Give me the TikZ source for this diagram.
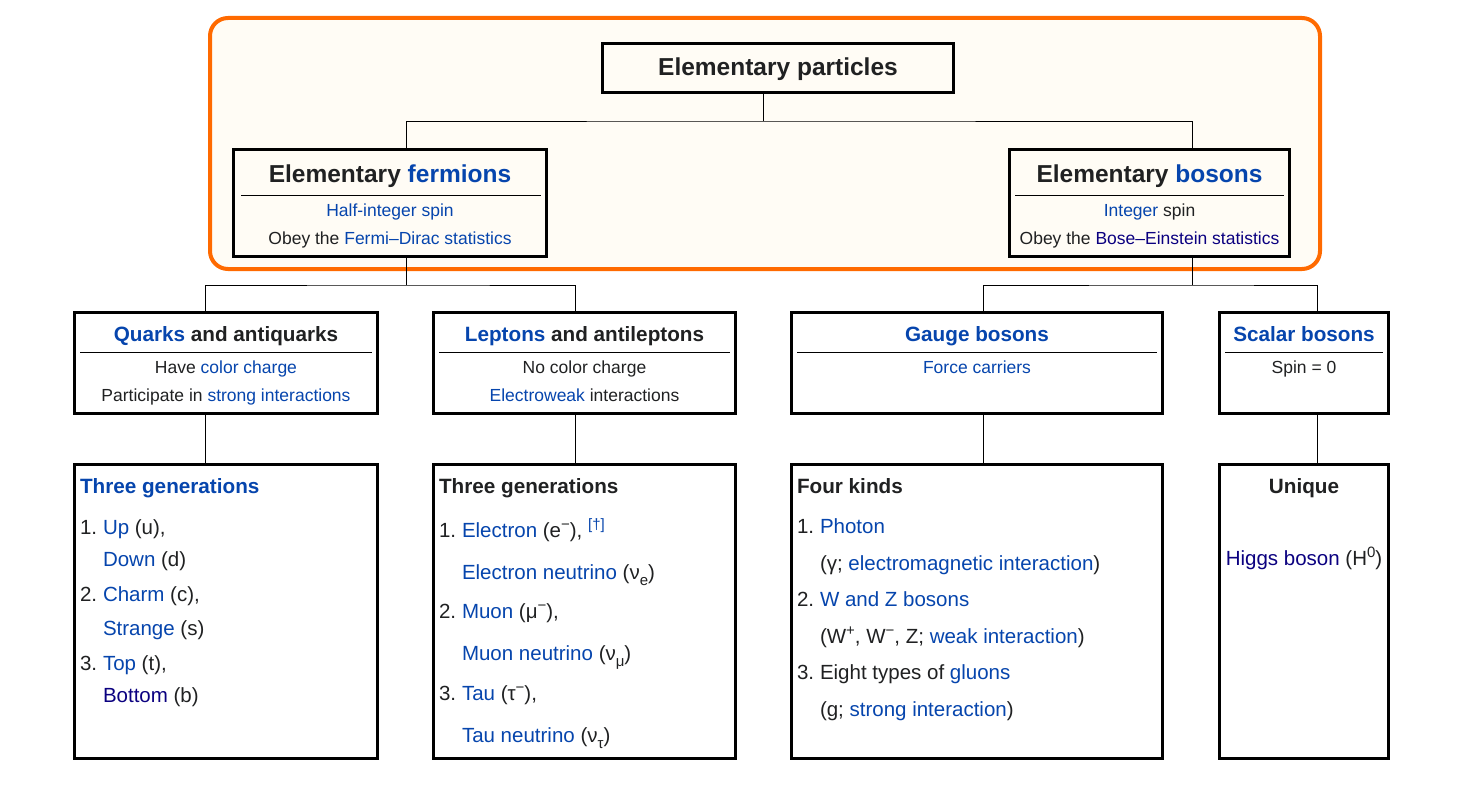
\documentclass[tikz,border=0pt]{standalone}
\usepackage{fontspec}
\setmainfont{Liberation Sans}
\definecolor{lnk}{HTML}{0645AD}
\definecolor{vis}{HTML}{0B0080}
\definecolor{txt}{HTML}{202122}
\definecolor{orng}{HTML}{FF6A00}
\definecolor{cream}{HTML}{FFFCF5}
\newcommand\lk[1]{\textcolor{lnk}{#1}}
\newcommand\vs[1]{\textcolor{vis}{#1}}
\newcommand\myfA{\fontsize{24.5}{28}\selectfont\bfseries}
\newcommand\myfB{\fontsize{20.7}{24}\selectfont\bfseries}
\newcommand\myfC{\fontsize{17.5}{20}\selectfont}
\newcommand\myfD{\fontsize{20.5}{24}\selectfont}
\newcommand\mysub[1]{\raisebox{-6pt}{\fontsize{15}{15}\selectfont #1}}
\newcommand\mysup[1]{\raisebox{8pt}{\fontsize{15}{15}\selectfont #1}}
\begin{document}
\begin{tikzpicture}[x=1pt,y=-1pt,
  every node/.style={inner sep=0pt, outer sep=0pt, text=txt},
  box/.style={draw=black, line width=3pt},
  wbox/.style={box, fill=white},
  frame/.style={draw=orng, line width=4pt, fill=cream, rounded corners=18pt},
  sepl/.style={draw=black, line width=1pt},
  conn/.style={draw=black, line width=1pt},
  tA/.style={anchor=base, font=\myfA},
  tB/.style={anchor=base, font=\myfB},
  tC/.style={anchor=base, font=\myfC},
  tBL/.style={anchor=base west, font=\myfB},
  tL/.style={anchor=base west, font=\myfD},
  tLc/.style={anchor=base, font=\myfD}]
\fill[white] (0,0) rectangle (1464,800);
\useasboundingbox (0,0) rectangle (1464,800);
\draw[frame] (210,18) rectangle (1320,269);

% column coordinates
\coordinate (xa) at (763,0);
\coordinate (xf) at (406,0);
\coordinate (xb) at (1192,0);
\coordinate (xq) at (205,0);
\coordinate (xl) at (575,0);
\coordinate (xg) at (983,0);
\coordinate (xs) at (1317,0);
\coordinate (j0) at (763,121);
\coordinate (j1) at (406,285);
\coordinate (j2) at (1192,285);

% top
\node[box, minimum width=351pt, minimum height=49pt] (top) at (778,68) {};
\node[tA] (topT) at (778,76) {Elementary particles};

% fermions
\node[box, minimum width=313pt, minimum height=107pt] (ferm) at (390,203) {};
\node[tA] (fermT) at (390,182) {Elementary \lk{fermions}};
\draw[sepl] (241,195) -- (541,195);
\node[tC] (fermA) at (390,216) {\lk{Half-integer spin}};
\node[tC] (fermB) at (390,244) {Obey the \lk{Fermi–Dirac statistics}};

% bosons
\node[box, minimum width=280pt, minimum height=107pt] (bos) at (1149.5,203) {};
\node[tA] (bosT) at (1149.5,182) {Elementary \lk{bosons}};
\draw[sepl] (1015,195) -- (1284,195);
\node[tC] (bosA) at (1149.5,216) {\lk{Integer} spin};
\node[tC] (bosB) at (1149.5,244) {Obey the \vs{Bose–Einstein statistics}};

% row 2
\node[wbox, minimum width=303pt, minimum height=101pt] (quarks) at (226,363) {};
\node[tB] (quarksT) at (226,341) {\lk{Quarks} and antiquarks};
\draw[sepl] (80,352) -- (372,352);
\node[tC] (quarksA) at (226,373) {Have \lk{color charge}};
\node[tC] (quarksB) at (226,401) {Participate in \lk{strong interactions}};

\node[wbox, minimum width=302pt, minimum height=101pt] (lept) at (584.5,363) {};
\node[tB] (leptT) at (584.5,341) {\lk{Leptons} and antileptons};
\draw[sepl] (439,352) -- (730,352);
\node[tC] (leptA) at (584.5,373) {No color charge};
\node[tC] (leptB) at (584.5,401) {\lk{Electroweak} interactions};

\node[wbox, minimum width=371pt, minimum height=101pt] (gauge) at (977,363) {};
\node[tB] (gaugeT) at (977,341) {\lk{Gauge bosons}};
\draw[sepl] (797,352) -- (1157,352);
\node[tC] (gaugeA) at (977,373) {\lk{Force carriers}};

\node[wbox, minimum width=169pt, minimum height=101pt] (scal) at (1304,363) {};
\node[tB] (scalT) at (1304,341) {\lk{Scalar bosons}};
\draw[sepl] (1225,352) -- (1383,352);
\node[tC] (scalA) at (1304,373) {Spin = 0};

% row 3
\node[wbox, minimum width=303pt, minimum height=294pt] (gq) at (226,611.5) {};
\node[tBL] (gqT) at (80,493) {\lk{Three generations}};
\node[tL] (gqn1) at (80,534) {1.};
\node[tL] (gq1) at (103,534) {\lk{Up} (u),};
\node[tL] (gq2) at (103,566) {\lk{Down} (d)};
\node[tL] (gqn2) at (80,601) {2.};
\node[tL] (gq3) at (103,601) {\lk{Charm} (c),};
\node[tL] (gq4) at (103,635) {\lk{Strange} (s)};
\node[tL] (gqn3) at (80,670) {3.};
\node[tL] (gq5) at (103,670) {\lk{Top} (t),};
\node[tL] (gq6) at (103,702) {\vs{Bottom} (b)};

\node[wbox, minimum width=302pt, minimum height=294pt] (gl) at (584.5,611.5) {};
\node[tBL] (glT) at (439,493) {Three generations};
\node[tL] (gln1) at (439,537) {1.};
\node[tL] (gl1) at (462,537) {\lk{Electron} (e\mysup{−}), \mysup{\lk{[†]}}};
\node[tL] (gl2) at (462,579) {\lk{Electron neutrino} (ν\mysub{e})};
\node[tL] (gln2) at (439,618) {2.};
\node[tL] (gl3) at (462,618) {\lk{Muon} (μ\mysup{−}),};
\node[tL] (gl4) at (462,660) {\lk{Muon neutrino} (ν\mysub{μ})};
\node[tL] (gln3) at (439,700) {3.};
\node[tL] (gl5) at (462,700) {\lk{Tau} (τ\mysup{−}),};
\node[tL] (gl6) at (462,742) {\lk{Tau neutrino} (ν\mysub{τ})};

\node[wbox, minimum width=371pt, minimum height=294pt] (gg) at (977,611.5) {};
\node[tBL] (ggT) at (797,493) {Four kinds};
\node[tL] (ggn1) at (797,533) {1.};
\node[tL] (gg1) at (820,533) {\lk{Photon}};
\node[tL] (gg2) at (820,570) {(γ; \lk{electromagnetic interaction})};
\node[tL] (ggn2) at (797,606) {2.};
\node[tL] (gg3) at (820,606) {\lk{W and Z bosons}};
\node[tL] (gg4) at (820,643) {(W\mysup{+}, W\mysup{−}, Z; \lk{weak interaction})};
\node[tL] (ggn3) at (797,679) {3.};
\node[tL] (gg5) at (820,679) {Eight types of \lk{gluons}};
\node[tL] (gg6) at (820,716) {(g; \lk{strong interaction})};

\node[wbox, minimum width=169pt, minimum height=294pt] (gs) at (1304,611.5) {};
\node[tB] (gsT) at (1304,493) {Unique};
\node[tLc] (gs1) at (1304,565) {\vs{Higgs boson} (H\mysup{0})};

% connectors
\draw[conn] (top.south -| xa) -- (j0);
\draw[conn] (ferm.north -| xf) |- (j0) -| (bos.north -| xb);
\draw[conn] (ferm.south -| xf) -- (j1);
\draw[conn] (quarks.north -| xq) |- (j1) -| (lept.north -| xl);
\draw[conn] (bos.south -| xb) -- (j2);
\draw[conn] (gauge.north -| xg) |- (j2) -| (scal.north -| xs);
\draw[conn] (quarks.south -| xq) -- (gq.north -| xq);
\draw[conn] (lept.south -| xl) -- (gl.north -| xl);
\draw[conn] (gauge.south -| xg) -- (gg.north -| xg);
\draw[conn] (scal.south -| xs) -- (gs.north -| xs);
\end{tikzpicture}
\end{document}
